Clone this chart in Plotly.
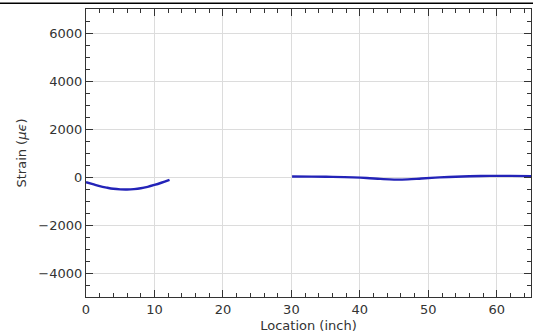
import plotly.graph_objects as go

# Strain along the member; the gap between the two gauge runs is left blank
loc_a = [0, 1, 2, 3, 4, 5, 6, 7, 8, 9, 10, 11, 12.2]
strain_a = [-220, -300, -380, -440, -490, -515, -520, -505, -470, -410, -330, -240, -120]

loc_b = [30.1, 33, 36, 39, 41, 43, 45, 47, 49, 51, 53, 56, 59, 62, 65]
strain_b = [20, 15, 5, -15, -40, -80, -110, -100, -60, -25, 0, 30, 45, 45, 35]

x_ticks = [0, 10, 20, 30, 40, 50, 60]
y_ticks = [-4000, -2000, 0, 2000, 4000, 6000]

line_style = dict(color="#2323b8", width=2.4, shape="spline")

fig = go.Figure()
fig.add_trace(go.Scatter(x=loc_a, y=strain_a, mode="lines", line=line_style))
fig.add_trace(go.Scatter(x=loc_b, y=strain_b, mode="lines", line=line_style))

axis_common = dict(
    showline=True, linecolor="#333", linewidth=1.3, mirror="allticks",
    ticks="inside", ticklen=7, tickwidth=1.3, tickcolor="#333",
    showgrid=True, gridcolor="#dcdcdc", gridwidth=1, zeroline=False,
    tickfont=dict(family="DejaVu Sans", size=13, color="#333"),
)

fig.update_layout(
    width=533, height=336,
    margin=dict(l=86, r=2, t=9, b=39),
    plot_bgcolor="white", paper_bgcolor="white",
    showlegend=False,
    font=dict(family="DejaVu Sans", size=13, color="#333"),
    xaxis=dict(
        range=[0, 65], tickvals=x_ticks,
        minor=dict(ticks="inside", dtick=2, ticklen=3.5, tickcolor="#333", showgrid=False),
        title=dict(text="Location (inch)", font=dict(size=13), standoff=5),
        **axis_common,
    ),
    yaxis=dict(
        range=[-5000, 7000], tickvals=y_ticks,
        ticktext=[f"{v}".replace("-", "\u2212") for v in y_ticks],
        minor=dict(ticks="inside", dtick=500, ticklen=3.5, tickcolor="#333", showgrid=False),
        title=dict(text="Strain (<i>\u03bc\u03f5</i>)", font=dict(size=13), standoff=8),
        **axis_common,
    ),
    shapes=[
        dict(type="line", xref="paper", yref="paper", x0=-0.2, x1=1.01, y0=1.02, y1=1.02,
             line=dict(color="black", width=1.5)),
    ],
)

fig.write_html("out.html")
